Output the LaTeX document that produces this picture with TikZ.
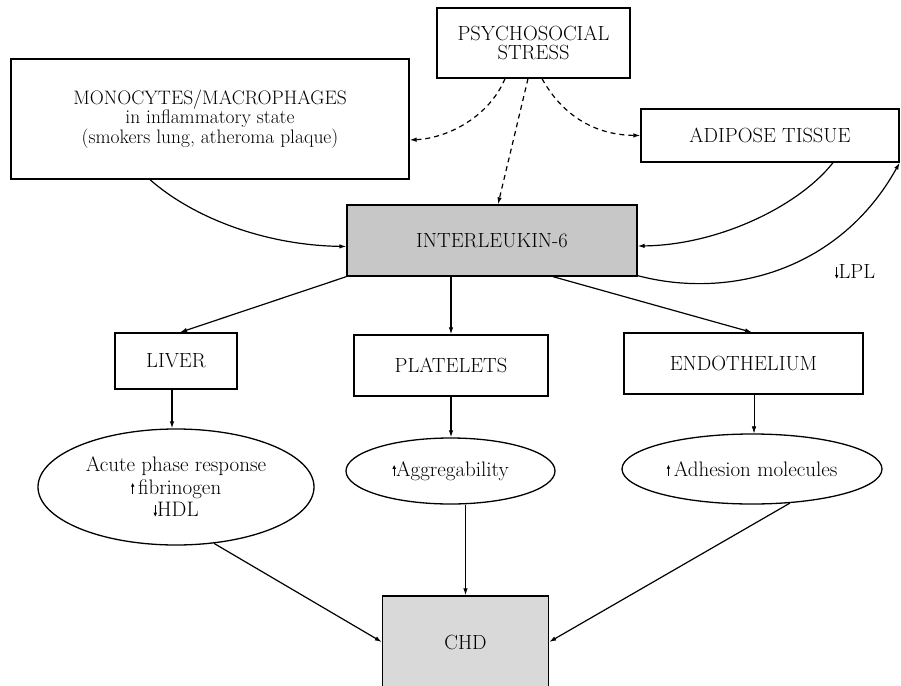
\documentclass[tikz,border=0pt]{standalone}
\usetikzlibrary{arrows.meta,shapes.geometric,calc}
\newcommand{\smallup}{\tikz[baseline=0pt,x=1pt,y=1pt]\draw[line width=0.8pt,-{Latex[length=4pt,width=3.8pt]}] (0,0)--(0,11.5);}
\newcommand{\smalldown}{\tikz[baseline=0pt,x=1pt,y=1pt]\draw[line width=0.8pt,-{Latex[length=4pt,width=3.8pt]}] (0,11.5)--(0,0);}
\begin{document}
\begin{tikzpicture}[x=1pt,y=-1pt,
  box/.style={draw,line width=1.3pt,rectangle,inner sep=0pt,align=center,font=\fontsize{20.5}{19}\selectfont},
  oval/.style={draw,line width=1.3pt,ellipse,inner sep=0pt,align=center,font=\fontsize{21}{22.5}\selectfont},
  arr/.style={line width=1.2pt,-{Latex[length=7pt,width=4.5pt]}},
  darr/.style={arr,dash pattern=on 5pt off 4pt},
]
\useasboundingbox (0,0) rectangle (901,685);
\node[box,minimum width=193pt,minimum height=70pt] (stress) at (533.5,43) {PSYCHOSOCIAL\\STRESS};
\node[box,minimum width=398pt,minimum height=120pt,font=\fontsize{19.5}{17}\selectfont] (mono) at (210,119) {MONOCYTES/MACROPHAGES\\in inflammatory state\\(smokers lung, atheroma plaque)};
\node[box,minimum width=258pt,minimum height=53pt] (adipose) at (770,135.5) {ADIPOSE TISSUE};
\node[box,fill=black!22,minimum width=290pt,minimum height=71pt] (il6) at (492,240.5) {INTERLEUKIN-6};
\node[box,minimum width=122pt,minimum height=56pt] (liver) at (176,361) {LIVER};
\node[box,minimum width=194pt,minimum height=61pt] (plat) at (451,365.5) {PLATELETS};
\node[box,minimum width=239pt,minimum height=61pt] (endo) at (743.5,363.5) {ENDOTHELIUM};
\node[oval,minimum width=276pt,minimum height=116pt] (ell1) at (176,487) {Acute phase response\\\smallup\,fibrinogen\\\smalldown HDL};
\node[oval,minimum width=209pt,minimum height=66pt] (ell2) at (450.5,471) {\smallup Aggregability};
\node[oval,minimum width=260pt,minimum height=70pt] (ell3) at (752,469) {\smallup\,Adhesion molecules};
\node[box,fill=black!15,minimum width=166pt,minimum height=92pt] (chd) at (465.5,642) {CHD};
\node[inner sep=0pt,font=\fontsize{20.5}{17}\selectfont] (lpl) at (855,272) {\smalldown LPL};

\draw[darr] ([xshift=-28.5pt]stress.south) .. controls (490,115) and (450,138) .. ([yshift=-21pt]mono.east);
\draw[darr] ([xshift=-5.5pt]stress.south) -- ([xshift=6pt]il6.north);
\draw[darr] ([xshift=8.5pt]stress.south) .. controls (565,120) and (600,135) .. (adipose.west);
\draw[arr] ([xshift=-60pt]mono.south) .. controls (190,215) and (260,245) .. ([yshift=-6pt]il6.west);
\draw[arr] ([xshift=63pt]adipose.south) .. controls (800,205) and (720,245) .. ([yshift=-5.5pt]il6.east);
\draw[arr] ([yshift=1pt]il6.south east) .. controls (730,300) and (840,270) .. (adipose.south east);
\draw[arr] (il6.south west) -- ([xshift=4pt]liver.north);
\draw[arr] (il6.south -| plat.north) -- (plat.north);
\draw[arr] ([xshift=61pt]il6.south) -- ([xshift=8.5pt]endo.north);
\draw[arr] ([xshift=-4pt]liver.south) -- ([xshift=-4pt]ell1.north);
\draw[arr] (plat.south) -- (plat.south |- ell2.north);
\draw[arr,line width=0.6pt] ([xshift=10.5pt]endo.south) -- ([xshift=2pt]ell3.north);
\draw[arr] (ell1.-56) -- (chd.west);
\draw[arr] (chd.north |- ell2.south) -- (chd.north);
\draw[arr] (ell3.-42) -- (chd.east);
\end{tikzpicture}
\end{document}
